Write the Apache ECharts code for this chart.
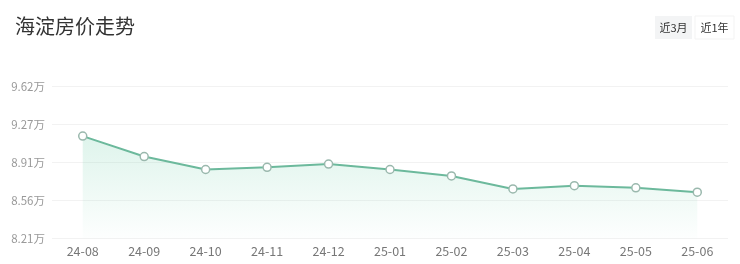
<!DOCTYPE html>
<html>
<head>
<meta charset="utf-8">
<script src="https://cdn.jsdelivr.net/npm/echarts@6/dist/echarts.min.js"></script>
<style>
html,body{margin:0;padding:0;background:#fff;}
#chart{width:740px;height:264px;}
</style>
</head>
<body>
<div id="chart"></div>
<script>
var titleText = '海淀房价走势';
var categories = ['24-08','24-09','24-10','24-11','24-12','25-01','25-02','25-03','25-04','25-05','25-06'];
var prices = [9.16, 8.97, 8.85, 8.87, 8.90, 8.85, 8.79, 8.67, 8.70, 8.68, 8.64];
var yTickLabels = ['8.21万','8.56万','8.91万','9.27万','9.62万'];
var yMin = 8.21, yMax = 9.62;
var buttons = ['近3月','近1年'];

var chart = echarts.init(document.getElementById('chart'), null, {renderer:'canvas'});
var fontFam = '"Noto Sans CJK SC","Noto Sans",sans-serif';
chart.setOption({
  animation:false,
  backgroundColor:'#fff',
  title:{text:titleText,left:10,top:11,textStyle:{fontSize:20,fontWeight:'normal',color:'#333',fontFamily:fontFam}},
  graphic:[
    {type:'rect',shape:{x:655,y:16,width:37,height:23},style:{fill:'#f3f4f5'}},
    {type:'text',x:673.5,y:27.5,style:{text:buttons[0],fontSize:11,fill:'#333',align:'center',verticalAlign:'middle',fontFamily:fontFam}},
    {type:'rect',shape:{x:695,y:16,width:39,height:23},style:{fill:'#fff',stroke:'#f3f3f3',lineWidth:1}},
    {type:'text',x:714.5,y:27.5,style:{text:buttons[1],fontSize:11,fill:'#333',align:'center',verticalAlign:'middle',fontFamily:fontFam}}
  ],
  grid:{left:52,right:12,top:86.5,bottom:25.5,containLabel:false},
  xAxis:{type:'category',data:categories,boundaryGap:true,
    axisLine:{show:false},axisTick:{show:false},
    axisLabel:{color:'#777',fontSize:12.5,margin:6,fontFamily:fontFam}},
  yAxis:{type:'value',min:yMin,max:yMax,interval:(yMax-yMin)/4,
    axisLine:{show:false},axisTick:{show:false},
    axisLabel:{color:'#999',fontSize:11.5,margin:7,fontFamily:fontFam,
      formatter:function(v,i){return yTickLabels[i];}},
    splitLine:{lineStyle:{color:'#f2f2f2',width:1}}},
  series:[{
    type:'line',data:prices,
    symbol:'circle',symbolSize:8,showAllSymbol:true,
    itemStyle:{color:'#fff',borderColor:'#9ab8ad',borderWidth:1.5},
    lineStyle:{color:'#6cb99c',width:2},
    areaStyle:{color:new echarts.graphic.LinearGradient(0,0,0,1,[
      {offset:0,color:'rgba(120,210,175,0.35)'},
      {offset:1,color:'rgba(120,210,175,0.02)'}])},
    z:3
  }]
});
</script>
</body>
</html>
